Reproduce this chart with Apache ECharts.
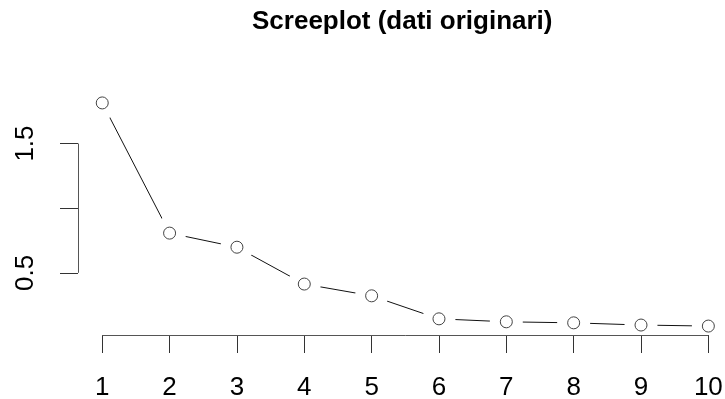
<!DOCTYPE html>
<html>
<head>
<meta charset="utf-8">
<script src="https://cdn.jsdelivr.net/npm/echarts@6/dist/echarts.min.js"></script>
<style>
  html, body { margin: 0; padding: 0; background: #fff; }
  #main { width: 725px; height: 399px; }
</style>
</head>
<body>
<div id="main"></div>
<script>
// componenti principali
var components = [1, 2, 3, 4, 5, 6, 7, 8, 9, 10];
var variances = [1.814, 0.807, 0.698, 0.413, 0.322, 0.144, 0.121, 0.113, 0.096, 0.088];
var yTicks = [0.5, 1.0, 1.5];
var yLabels = [0.5, 1.5];
var xTicks = [1, 2, 3, 4, 5, 6, 7, 8, 9, 10];

var FONT = '"Liberation Sans", Arial, sans-serif';

// range come in R (espansione del 4%)
function usr(arr) {
  var lo = Math.min.apply(null, arr), hi = Math.max.apply(null, arr);
  var pad = (hi - lo) * 0.04;
  return [lo - pad, hi + pad];
}
var xr = usr(components);
var yr = usr(variances);

var points = components.map(function (c, i) { return [c, variances[i]]; });

var myChart = echarts.init(document.getElementById('main'));

var option = {
  animation: false,
  title: {
    text: 'Screeplot (dati originari)',
    left: 252,
    top: 9,
    padding: 0,
    textStyle: { fontFamily: FONT, fontSize: 26, fontWeight: 'bold', color: '#000' }
  },
  grid: {
    left: 78,
    top: 94,
    width: 654.6,
    height: 241,
    outerBoundsMode: 'none'
  },
  xAxis: {
    type: 'value',
    min: xr[0],
    max: xr[1],
    z: 4,
    axisLine: { show: false },
    splitLine: { show: false },
    axisTick: { show: true, length: 18, customValues: xTicks, lineStyle: { color: '#333', width: 1 } },
    axisLabel: {
      customValues: xTicks,
      margin: 40,
      fontFamily: FONT,
      fontSize: 26,
      color: '#000'
    }
  },
  yAxis: {
    type: 'value',
    min: yr[0],
    max: yr[1],
    z: 4,
    axisLine: { show: false },
    splitLine: { show: false },
    axisTick: { show: true, length: 18, customValues: yTicks, lineStyle: { color: '#333', width: 1 } },
    axisLabel: {
      customValues: yLabels,
      rotate: 90,
      margin: 39,
      fontFamily: FONT,
      fontSize: 26,
      color: '#000',
      formatter: function (v) { return v.toFixed(1); }
    }
  },
  series: [{
    name: 'linea',
    type: 'line',
    data: points,
    showSymbol: false,
    z: 1,
    lineStyle: { color: '#111', width: 1 }
  }, {
    // spazio bianco attorno ai punti (type = "b")
    name: 'gap',
    type: 'scatter',
    data: points,
    symbolSize: 33,
    silent: true,
    z: 2,
    itemStyle: { color: '#fff', opacity: 1 }
  }, {
    name: 'punti',
    type: 'scatter',
    data: points,
    symbolSize: 12,
    z: 3,
    itemStyle: { color: '#fff', borderColor: '#444', borderWidth: 1, opacity: 1 }
  }, {
    // linee degli assi solo tra il primo e l'ultimo tick
    name: 'assi',
    type: 'line',
    data: [],
    z: 5,
    markLine: {
      silent: true,
      symbol: 'none',
      label: { show: false },
      lineStyle: { color: '#555', width: 1, type: 'solid' },
      data: [
        [{ coord: [xTicks[0], yr[0]] }, { coord: [xTicks[xTicks.length - 1], yr[0]] }],
        [{ coord: [xr[0], yTicks[0]] }, { coord: [xr[0], yTicks[yTicks.length - 1]] }]
      ]
    }
  }]
};
myChart.setOption(option);
</script>
</body>
</html>
